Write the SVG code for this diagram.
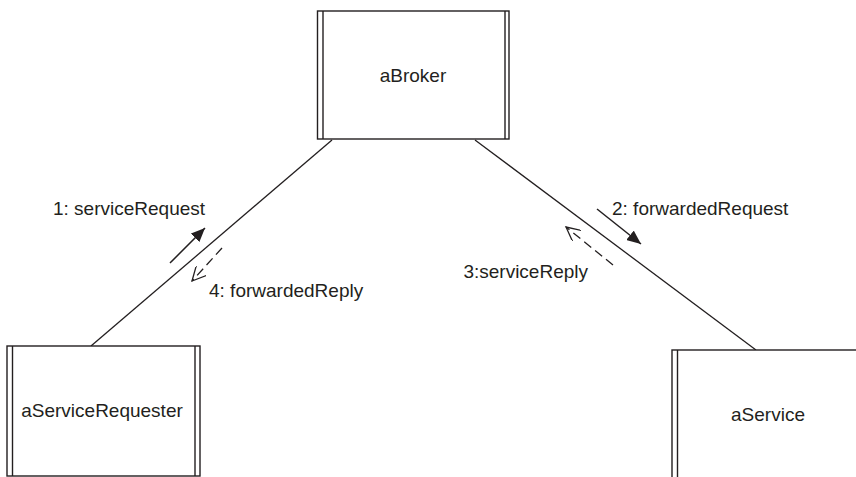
<svg xmlns="http://www.w3.org/2000/svg" width="856" height="477" viewBox="0 0 856 477">
<style>
.box{fill:#fff;stroke:#231f20;stroke-width:1.4}
.bar{fill:none;stroke:#231f20;stroke-width:1.4}
.lbl{font-family:"Liberation Sans",Arial,sans-serif;font-size:19px;fill:#231f20}
.conn{stroke:#231f20;stroke-width:1.3;fill:none}
.msg{stroke:#231f20;stroke-width:1.5;fill:none}
.dash{stroke:#231f20;stroke-width:1.3;fill:none;stroke-dasharray:9 5}
</style>
<defs>
<marker id="solid" markerUnits="userSpaceOnUse" markerWidth="16" markerHeight="12" refX="14" refY="6" orient="auto">
<path d="M0,0 L14,6 L0,12 z" fill="#231f20"/>
</marker>
<marker id="open" markerUnits="userSpaceOnUse" markerWidth="16" markerHeight="14" refX="14" refY="7" orient="auto">
<path d="M0,0 L14,7 L0,14" fill="none" stroke="#231f20" stroke-width="1.3"/>
</marker>
</defs>
<rect width="856" height="477" fill="#fff"/>
<g id="connectors">
<line class="conn" x1="332" y1="140" x2="91" y2="346"/>
<line class="conn" x1="475" y1="140" x2="756" y2="350"/>
<line class="msg" x1="170" y1="263" x2="205" y2="228" marker-end="url(#solid)"/>
<line class="dash" x1="222" y1="248" x2="192" y2="281" marker-end="url(#open)"/>
<line class="msg" x1="597" y1="209" x2="641" y2="244" marker-end="url(#solid)"/>
<line class="dash" x1="613" y1="265" x2="566" y2="227" marker-end="url(#open)"/>
</g>
<g id="labels">
<text class="lbl" x="53" y="215">1: serviceRequest</text>
<text class="lbl" x="209" y="297">4: forwardedReply</text>
<text class="lbl" x="612" y="215">2: forwardedRequest</text>
<text class="lbl" x="588" y="278" text-anchor="end">3:serviceReply</text>
</g>
<g id="aBroker">
<rect class="box" x="317.5" y="11" width="191.5" height="128"/>
<line class="bar" x1="323" y1="11" x2="323" y2="139"/>
<line class="bar" x1="505" y1="11" x2="505" y2="139"/>
<text class="lbl" x="413" y="82" text-anchor="middle">aBroker</text>
</g>
<g id="aServiceRequester">
<rect class="box" x="7" y="346" width="193" height="130"/>
<line class="bar" x1="12.5" y1="346" x2="12.5" y2="476"/>
<line class="bar" x1="195" y1="346" x2="195" y2="476"/>
<text class="lbl" x="102" y="417" text-anchor="middle">aServiceRequester</text>
</g>
<g id="aService">
<rect class="box" x="672" y="350" width="192" height="135"/>
<line class="bar" x1="677.5" y1="350" x2="677.5" y2="485"/>
<text class="lbl" x="768" y="421" text-anchor="middle">aService</text>
</g>
</svg>
